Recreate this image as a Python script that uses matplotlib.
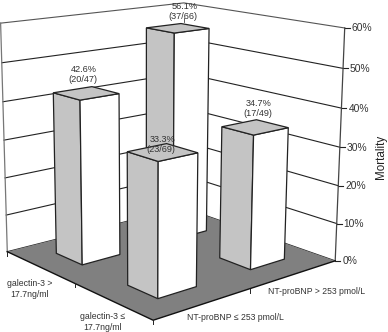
import numpy as np
import matplotlib
matplotlib.use("Agg")
import matplotlib.pyplot as plt
from matplotlib.patches import Polygon

plt.rcParams['font.family'] = ['Liberation Sans', 'DejaVu Sans']

galectin_labels = ["galectin-3 >\n17.7ng/ml", "galectin-3 ≤\n17.7ng/ml"]
ntprobnp_labels = ["NT-proBNP ≤ 253 pmol/L", "NT-proBNP > 253 pmol/L"]
# rows: galectin >, galectin <=; columns: NT <=, NT >
mortality = [[42.6, 56.1], [33.3, 34.7]]
counts = [["(20/47)", "(37/66)"], ["(23/69)", "(17/49)"]]
z_ticks = [0, 10, 20, 30, 40, 50, 60]
z_label = "Mortality"

# camera: world (u, v, z) to pixel, fitted to the box corners of the plot
world = [(0,0,0),(2,0,0),(2,2,0),(0,2,0),(0,0,60),(2,2,60),(0,2,60)]
pix = [(8,252),(153,320),(336,261),(181,207),(0,23),(344,28),(185,3)]
A = []
for (u,v,z),(px,py) in zip(world,pix):
    z = z/30
    A.append([u,v,z,1,0,0,0,0,-px*u,-px*v,-px*z,-px])
    A.append([0,0,0,0,u,v,z,1,-py*u,-py*v,-py*z,-py])
P = np.linalg.svd(np.array(A,float))[2][-1].reshape(3,4)

def proj(u,v,z=0):
    q = P @ np.array([u,v,z/30,1.0])
    return q[0]/q[2], q[1]/q[2]

fig = plt.figure(figsize=(3.88,3.32), dpi=100)
ax = fig.add_axes([0,0,1,1])
ax.set_xlim(0,388); ax.set_ylim(332,0); ax.axis('off')

GRID = '#222222'
TXT = '#333333'
# walls
ax.add_patch(Polygon([proj(0,0,0),proj(0,2,0),proj(0,2,60),proj(0,0,60)],fc='white',ec='none',zorder=1))
ax.add_patch(Polygon([proj(0,2,0),proj(2,2,0),proj(2,2,60),proj(0,2,60)],fc='white',ec='none',zorder=1))
for z in z_ticks:
    pts = [proj(0,0,z),proj(0,2,z),proj(2,2,z)]
    ax.plot(*zip(*pts),color=GRID if z<60 else '#555555',lw=0.8,zorder=2,solid_joinstyle='miter')
    x,y = proj(2,2,z)
    ax.plot([x,x+5],[y,y],color=GRID,lw=0.8,zorder=2)
    ax.text(x+7,y+0.5,f"{z}%",fontsize=7.4,color=TXT,ha='left',va='center',zorder=9)
ax.plot(*zip(proj(0,0,0),proj(0,0,60)),color='#777777',lw=0.9,zorder=2)
ax.plot(*zip(proj(2,2,0),proj(2,2,60)),color='#444444',lw=0.9,zorder=2)
# floor
ax.add_patch(Polygon([proj(0,0),proj(2,0),proj(2,2),proj(0,2)],fc='#808080',ec='none',zorder=3))
ax.plot(*zip(proj(0,0),proj(2,0),proj(2,2)),color='#111111',lw=1.0,zorder=3)
# edge ticks
for s in (0,1,2):
    x,y = proj(s,0); ax.plot([x,x],[y,y+4],color='#222222',lw=0.7,zorder=3)
for s in (1,):
    x,y = proj(2,s); ax.plot([x,x],[y,y+4],color='#222222',lw=0.7,zorder=3)

half_u, half_v = 0.19, 0.20
z_order = 4
label_offsets = {(0,0):(-2,-24),(0,1):(7,-22),(1,0):(0,-13),(1,1):(4,-24)}
for g,n in [(0,1),(0,0),(1,1),(1,0)]:
    val = mortality[g][n]
    cu,cv = g+0.5, n+0.5
    u0,u1,v0,v1 = cu-half_u,cu+half_u,cv-half_v,cv+half_v
    left = [proj(u0,v0,0),proj(u1,v0,0),proj(u1,v0,val),proj(u0,v0,val)]
    right = [proj(u1,v0,0),proj(u1,v1,0),proj(u1,v1,val),proj(u1,v0,val)]
    top = [proj(u0,v0,val),proj(u1,v0,val),proj(u1,v1,val),proj(u0,v1,val)]
    ax.add_patch(Polygon(left,fc='#c4c4c4',ec='#222222',lw=0.9,zorder=z_order,joinstyle='miter'))
    ax.add_patch(Polygon(right,fc='white',ec='#222222',lw=0.9,zorder=z_order,joinstyle='miter'))
    ax.add_patch(Polygon(top,fc='#c4c4c4',ec='#222222',lw=0.9,zorder=z_order,joinstyle='miter'))
    cx,cy = proj(cu,cv,val)
    dx,dy = label_offsets[(g,n)]
    ax.text(cx+dx,cy+dy,f"{val}%",fontsize=6.6,color=TXT,ha='center',va='center',zorder=9)
    ax.text(cx+dx-1.5,cy+dy+10.5,counts[g][n],fontsize=6.6,color=TXT,ha='center',va='center',zorder=9)
    if (g,n)==(0,1):
        ax.plot([cx+6,cx+6],[cy-10,cy-6],color='#444444',lw=0.6,zorder=9)
    z_order += 1

for lab,(x,y) in zip(galectin_labels,[(30,289),(103,322)]):
    ax.text(x,y,lab,fontsize=6.3,color=TXT,ha='center',va='center',linespacing=1.2,zorder=9)
for lab,(x,y) in zip(ntprobnp_labels,[(235.5,317),(316.5,291)]):
    ax.text(x,y,lab,fontsize=6.2,color=TXT,ha='center',va='center',zorder=9)
ax.text(381,157,z_label,fontsize=8.4,color='#222222',rotation=90,ha='center',va='center',zorder=9)

fig.savefig("out.png",dpi=100,facecolor='white')
